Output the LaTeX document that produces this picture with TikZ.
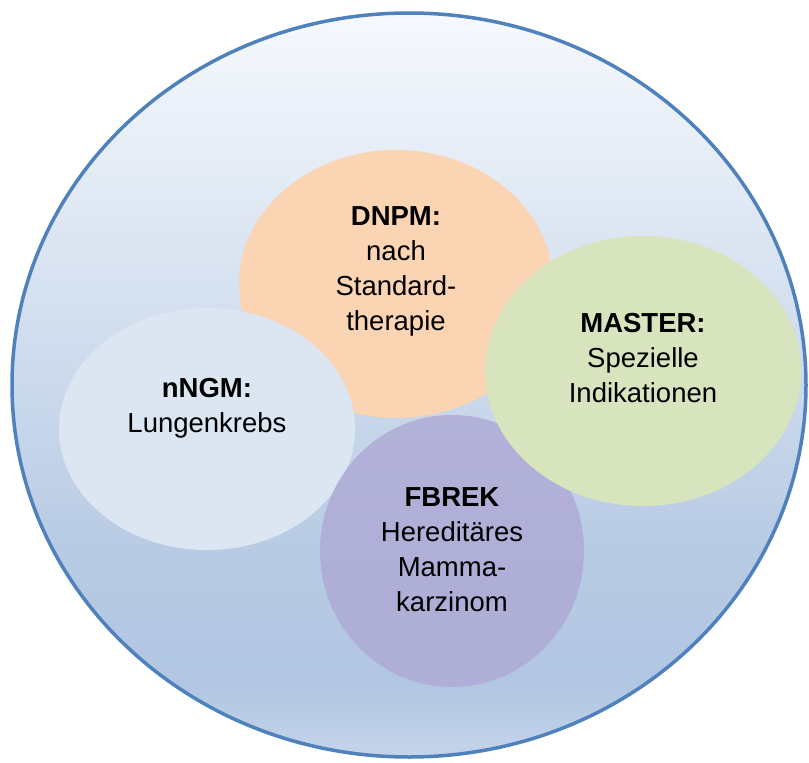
\documentclass[tikz,border=0pt]{standalone}
\usepackage{fontspec}
\setmainfont{Liberation Sans}
\usetikzlibrary{shapes.geometric}
\definecolor{bgtop}{HTML}{F6F9FD}
\definecolor{bgmid}{HTML}{B1C6E2}
\definecolor{bgmidb}{HTML}{B8CBE4}
\definecolor{bgbot}{HTML}{C4D4EA}
\definecolor{rimblue}{HTML}{4F81BD}
\definecolor{dnpmcol}{HTML}{FBD4B4}
\definecolor{mastercol}{HTML}{D7E4BD}
\definecolor{ngmcol}{HTML}{DCE6F2}
\definecolor{fbrekcol}{HTML}{AEA8D4}
\pgfdeclareverticalshading{bigbg}{100bp}{color(0bp)=(bgbot); color(25bp)=(bgbot); color(30bp)=(bgmid); color(39bp)=(bgmidb); color(75bp)=(bgtop); color(100bp)=(bgtop)}
\tikzset{
  blob/.style={ellipse, inner sep=0pt, draw=none},
  lbl/.style={align=center, font=\fontsize{27.5pt}{35pt}\selectfont, text=black, inner sep=0pt}
}
\begin{document}
\begin{tikzpicture}[x=1pt,y=-1pt]
\useasboundingbox (0,0) rectangle (809,763);
\node[ellipse, inner sep=0pt, minimum width=794pt, minimum height=744pt, shading=bigbg, draw=rimblue, line width=3.5pt] (outer) at (409,385) {};
\node[blob, fill=dnpmcol, minimum width=314pt, minimum height=268pt] (dnpm) at (396,284) {};
\node[blob, fill=ngmcol, minimum width=296pt, minimum height=242pt] (ngm) at (207,429) {};
\node[blob, fill=fbrekcol, fill opacity=0.8, minimum width=264pt, minimum height=272pt] (fbrek) at (452,551) {};
\node[blob, fill=mastercol, minimum width=316pt, minimum height=270pt] (master) at (643,371) {};
\node[lbl] (tdnpm) at (396,271) {\textbf{DNPM:}\\nach\\Standard-\\therapie};
\node[lbl] (tngm) at (207,408) {\textbf{nNGM:}\\Lungenkrebs};
\node[lbl] (tmaster) at (643,358) {\textbf{MASTER:}\\Spezielle\\Indikationen};
\node[lbl] (tfbrek) at (452,550) {\textbf{FBREK}\\Hereditäres\\Mamma-\\karzinom};
\end{tikzpicture}
\end{document}
